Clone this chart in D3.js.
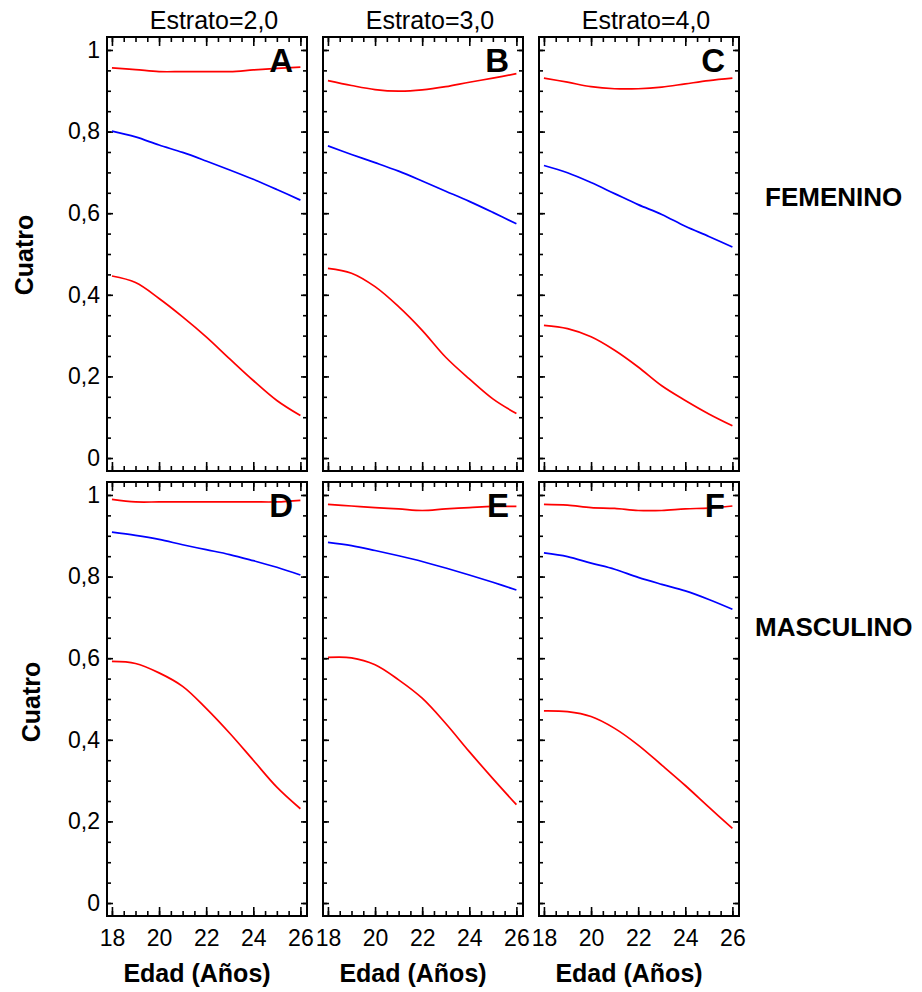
<!DOCTYPE html>
<html><head><meta charset="utf-8">
<script src="https://cdn.jsdelivr.net/npm/d3@7"></script>
<style>
body{margin:0;background:#fff;}
svg{display:block;font-family:"Liberation Sans",Arial,sans-serif;}
</style></head>
<body><svg id="c" width="922" height="992"></svg>
<script>
const ages = [18,19,20,21,22,23,24,25,26];
const estratos = ["Estrato=2,0","Estrato=3,0","Estrato=4,0"];
const sexos = ["FEMENINO","MASCULINO"];
const panelLetters = [["A","B","C"],["D","E","F"]];
const yLabel = "Cuatro";
const xLabel = "Edad (Años)";
const yTickValues = [0,0.2,0.4,0.6,0.8,1];
const yTickLabels = ["0","0,2","0,4","0,6","0,8","1"];
const xTickValues = [18,20,22,24,26];
const xTickLabels = ["18","20","22","24","26"];

// FEMENINO
const fitA   = [0.801,0.787,0.767,0.749,0.728,0.706,0.683,0.658,0.632];
const upperA = [0.956,0.952,0.947,0.947,0.947,0.947,0.951,0.955,0.958];
const lowerA = [0.446,0.430,0.391,0.346,0.297,0.243,0.190,0.141,0.104];
const fitB   = [0.765,0.744,0.724,0.703,0.679,0.654,0.629,0.602,0.574];
const upperB = [0.925,0.913,0.903,0.899,0.902,0.910,0.921,0.931,0.942];
const lowerB = [0.465,0.453,0.420,0.371,0.313,0.247,0.194,0.145,0.109];
const fitC   = [0.717,0.699,0.675,0.648,0.621,0.597,0.568,0.543,0.517];
const upperC = [0.931,0.921,0.910,0.905,0.905,0.909,0.917,0.925,0.931];
const lowerC = [0.325,0.317,0.297,0.264,0.223,0.177,0.141,0.108,0.079];
// MASCULINO
const fitD   = [0.909,0.901,0.891,0.878,0.866,0.854,0.839,0.823,0.804];
const upperD = [0.989,0.983,0.983,0.983,0.983,0.983,0.983,0.983,0.987];
const lowerD = [0.592,0.587,0.564,0.531,0.477,0.416,0.350,0.284,0.231];
const fitE   = [0.884,0.876,0.864,0.851,0.837,0.821,0.804,0.786,0.767];
const upperE = [0.977,0.973,0.969,0.966,0.962,0.966,0.969,0.972,0.972];
const lowerE = [0.602,0.601,0.584,0.547,0.502,0.440,0.371,0.305,0.241];
const fitF   = [0.858,0.849,0.833,0.818,0.798,0.781,0.765,0.744,0.720];
const upperF = [0.977,0.975,0.969,0.967,0.962,0.962,0.966,0.968,0.973];
const lowerF = [0.471,0.469,0.457,0.428,0.387,0.338,0.288,0.235,0.183];

const panels = [
  [{fit:fitA,up:upperA,lo:lowerA},{fit:fitB,up:upperB,lo:lowerB},{fit:fitC,up:upperC,lo:lowerC}],
  [{fit:fitD,up:upperD,lo:lowerD},{fit:fitE,up:upperE,lo:lowerE},{fit:fitF,up:upperF,lo:lowerF}]
];

const colX = [107,323,539], rowY = [37,482];
const PW = 200, PH = 434;
const x = d3.scaleLinear().domain([17.79,26.28]).range([0,PW]);
const y = d3.scaleLinear().domain([-0.0318,1.0318]).range([PH,0]);
const yMinor = d3.range(0,1.0001,0.05).map(v=>+v.toFixed(2));
const xMinor = d3.range(18,26.001,0.5);

const svg = d3.select("#c");
const line = d3.line().x((d,i)=>x(ages[i])).y(d=>y(d)).curve(d3.curveCatmullRom.alpha(0.5));

function clean(g){ g.select(".domain").remove(); g.selectAll("line").attr("stroke","#000").attr("stroke-width",1.6); }

for (let r=0;r<2;r++){
  for (let c=0;c<3;c++){
    const g = svg.append("g").attr("transform",`translate(${colX[c]},${rowY[r]})`);
    // ticks: left
    g.append("g").call(d3.axisLeft(y).tickValues(yMinor).tickSize(-4).tickFormat("")).call(clean);
    const yl = g.append("g").call(d3.axisLeft(y).tickValues(yTickValues).tickSize(-6).tickPadding(7)
      .tickFormat((d,i)=> c===0 ? yTickLabels[i] : "")).call(clean);
    yl.selectAll("text").attr("font-size",23).attr("fill","#000").attr("font-family","Liberation Sans, Arial, sans-serif");
    // right
    g.append("g").attr("transform",`translate(${PW},0)`).call(d3.axisRight(y).tickValues(yMinor).tickSize(-4).tickFormat("")).call(clean);
    g.append("g").attr("transform",`translate(${PW},0)`).call(d3.axisRight(y).tickValues(yTickValues).tickSize(-6).tickFormat("")).call(clean);
    // top
    g.append("g").call(d3.axisTop(x).tickValues(xMinor).tickSize(-5).tickFormat("")).call(clean);
    g.append("g").call(d3.axisTop(x).tickValues(xTickValues).tickSize(-9).tickFormat("")).call(clean);
    // bottom
    g.append("g").attr("transform",`translate(0,${PH})`).call(d3.axisBottom(x).tickValues(xMinor).tickSize(-5).tickFormat("")).call(clean);
    const xb = g.append("g").attr("transform",`translate(0,${PH})`).call(d3.axisBottom(x).tickValues(xTickValues).tickSize(-9).tickPadding(14)
      .tickFormat((d,i)=> r===1 ? xTickLabels[i] : "")).call(clean);
    xb.selectAll("text").attr("font-size",23).attr("fill","#000").attr("font-family","Liberation Sans, Arial, sans-serif");

    // lines
    const p = panels[r][c];
    g.append("path").attr("d",line(p.up)).attr("fill","none").attr("stroke","#ff0000").attr("stroke-width",1.7);
    g.append("path").attr("d",line(p.fit)).attr("fill","none").attr("stroke","#0000ff").attr("stroke-width",1.7);
    g.append("path").attr("d",line(p.lo)).attr("fill","none").attr("stroke","#ff0000").attr("stroke-width",1.7);

    // frame
    g.append("rect").attr("x",0).attr("y",0).attr("width",PW).attr("height",PH)
      .attr("fill","none").attr("stroke","#000").attr("stroke-width",2);

    // letter
    g.append("text").attr("x",PW-14).attr("y",35).attr("text-anchor","end")
      .attr("font-size",33).attr("font-weight","bold").attr("fill","#000").text(panelLetters[r][c]);

    if (r===0){
      svg.append("text").attr("x",colX[c]+PW/2+7).attr("y",29).attr("text-anchor","middle")
        .attr("font-size",25).attr("fill","#000").text(estratos[c]);
    } else {
      svg.append("text").attr("x",colX[c]+PW/2-10).attr("y",982).attr("text-anchor","middle")
        .attr("font-size",25).attr("font-weight","bold").attr("fill","#000").text(xLabel);
    }
  }
}
// y labels
[[33,255],[40,702]].forEach(([bx,cy])=>{
  svg.append("text").attr("transform",`translate(${bx},${cy}) rotate(-90)`).attr("text-anchor","middle")
    .attr("font-size",25).attr("font-weight","bold").attr("fill","#000").text(yLabel);
});
// row labels
svg.append("text").attr("x",765).attr("y",206).attr("font-size",26).attr("font-weight","bold").attr("fill","#000").text(sexos[0]);
svg.append("text").attr("x",755).attr("y",636).attr("font-size",26).attr("font-weight","bold").attr("fill","#000").text(sexos[1]);
</script></body></html>
